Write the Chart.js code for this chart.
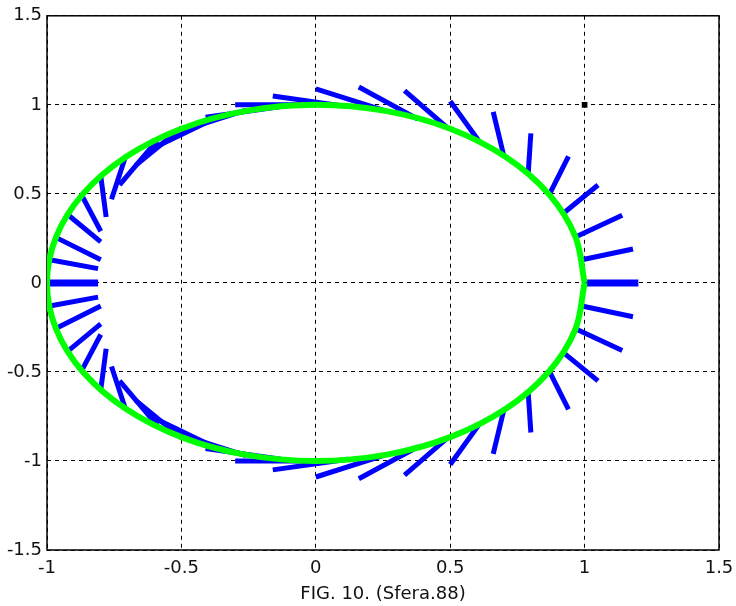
<!DOCTYPE html>
<html>
<head>
<meta charset="utf-8">
<script src="https://cdn.jsdelivr.net/npm/chart.js@4"></script>
<style>
  html, body { margin: 0; padding: 0; background: #fff; }
  #wrap { width: 736px; height: 606px; }
</style>
</head>
<body>
<div id="wrap"><canvas id="sferaChart"></canvas></div>
<script>
const xTicks = [-1, -0.5, 0, 0.5, 1, 1.5];
const yTicks = [-1.5, -1, -0.5, 0, 0.5, 1, 1.5];
const caption = "FIG. 10. (Sfera.88)";

// green ring, read every 15 degrees
const ringX = [1, 0.966, 0.866, 0.707, 0.5, 0.259, 0, -0.259, -0.5, -0.707, -0.866, -0.966,
  -1, -0.966, -0.866, -0.707, -0.5, -0.259, 0, 0.259, 0.5, 0.707, 0.866, 0.966, 1];
const ringY = [0, 0.259, 0.5, 0.707, 0.866, 0.966, 1, 0.966, 0.866, 0.707, 0.5, 0.259,
  0, -0.259, -0.5, -0.707, -0.866, -0.966, -1, -0.966, -0.866, -0.707, -0.5, -0.259, 0];

// blue needles: start on the ring, end point
const needleFromX = [1.00, 0.99, 0.97, 0.92, 0.87, 0.79, 0.70, 0.61, 0.49, 0.38, 0.25, 0.12,
  0.00, -0.13, -0.26, -0.38, -0.50, -0.59, -0.71, -0.80, -0.87, -0.92, -0.96, -0.99,
  -1.00, -0.99, -0.96, -0.92, -0.87, -0.80, -0.71, -0.59, -0.50, -0.38, -0.26, -0.13,
  0.00, 0.12, 0.25, 0.38, 0.49, 0.61, 0.70, 0.79, 0.87, 0.92, 0.97, 0.99];
const needleFromY = [0.00, 0.13, 0.26, 0.39, 0.50, 0.61, 0.71, 0.79, 0.87, 0.92, 0.97, 0.99,
  1.00, 0.99, 0.97, 0.92, 0.87, 0.80, 0.70, 0.60, 0.49, 0.38, 0.25, 0.13,
  0.00, -0.13, -0.25, -0.38, -0.49, -0.60, -0.70, -0.80, -0.87, -0.92, -0.97, -0.99,
  -1.00, -0.99, -0.97, -0.92, -0.87, -0.79, -0.71, -0.61, -0.50, -0.39, -0.26, -0.13];
const needleToX = [1.20, 1.18, 1.14, 1.05, 0.94, 0.80, 0.66, 0.50, 0.33, 0.16, 0.00, -0.16,
  -0.30, -0.41, -0.51, -0.60, -0.67, -0.73, -0.76, -0.78, -0.80, -0.80, -0.80, -0.81,
  -0.81, -0.81, -0.80, -0.80, -0.80, -0.78, -0.76, -0.73, -0.67, -0.60, -0.51, -0.41,
  -0.30, -0.16, 0.00, 0.16, 0.33, 0.50, 0.66, 0.80, 0.94, 1.05, 1.14, 1.18];
const needleToY = [0.00, 0.19, 0.38, 0.55, 0.71, 0.84, 0.96, 1.02, 1.08, 1.10, 1.09, 1.05,
  1.00, 0.93, 0.85, 0.76, 0.66, 0.55, 0.47, 0.37, 0.29, 0.23, 0.13, 0.08,
  0.00, -0.08, -0.13, -0.23, -0.29, -0.37, -0.47, -0.55, -0.66, -0.76, -0.85, -0.93,
  -1.00, -1.05, -1.09, -1.10, -1.08, -1.02, -0.96, -0.84, -0.71, -0.55, -0.38, -0.19];

const markerX = [1];
const markerY = [1];

const textColor = "#111";
const tickFont = { family: "DejaVu Sans", size: 18 };

const frameBox = {
  id: "frameBox",
  beforeDatasetsDraw(chart) {
    const { ctx, chartArea: a } = chart;
    ctx.save();
    ctx.strokeStyle = "#000";
    ctx.lineWidth = 1.5;
    ctx.strokeRect(a.left, a.top, a.right - a.left, a.bottom - a.top);
    ctx.restore();
  },
};

const datasets = [
  {
    data: ringX.map((x, i) => ({ x, y: ringY[i] })),
    showLine: true,
    borderColor: "#00ff00",
    borderWidth: 6,
    pointRadius: 0,
    tension: 0.34,
    clip: 0,
    order: 0,
  },
  {
    data: markerX.map((x, i) => ({ x, y: markerY[i] })),
    pointStyle: "rect",
    pointRadius: 4,
    backgroundColor: "#000",
    borderColor: "#000",
    borderWidth: 0,
    order: 0,
  },
];

needleFromX.forEach((x0, i) => {
  const flat = needleFromY[i] === 0 && needleToY[i] === 0;
  datasets.push({
    data: [
      { x: x0, y: needleFromY[i] },
      { x: needleToX[i], y: needleToY[i] },
    ],
    showLine: true,
    borderColor: "#0000ff",
    borderWidth: flat ? 7 : 5,
    borderCapStyle: "butt",
    pointRadius: 0,
    clip: 0,
    order: 1,
  });
});

new Chart(document.getElementById("sferaChart"), {
  type: "scatter",
  data: { datasets },
  plugins: [frameBox],
  options: {
    responsive: true,
    maintainAspectRatio: false,
    animation: false,
    layout: { padding: { top: 13, right: 17, left: 0, bottom: 0 } },
    plugins: {
      legend: { display: false },
      tooltip: { enabled: false },
    },
    scales: {
      x: {
        type: "linear",
        min: -1,
        max: 1.5,
        afterBuildTicks: (scale) => {
          scale.ticks = xTicks.map((v) => ({ value: v }));
        },
        afterFit: (scale) => {
          scale.height = 56;
          scale.paddingLeft = 0;
          scale.paddingRight = 0;
        },
        ticks: {
          color: textColor,
          font: tickFont,
          padding: 8,
          maxRotation: 0,
          autoSkip: false,
          callback: (v) => String(v),
        },
        grid: { color: "#000", lineWidth: 1, drawTicks: false },
        border: { display: false, dash: [4, 4] },
        title: {
          display: true,
          text: caption,
          color: textColor,
          font: tickFont,
          padding: { top: 0, bottom: 1 },
        },
      },
      y: {
        type: "linear",
        min: -1.5,
        max: 1.5,
        afterBuildTicks: (scale) => {
          scale.ticks = yTicks.map((v) => ({ value: v }));
        },
        afterFit: (scale) => {
          scale.width = 47;
        },
        ticks: {
          color: textColor,
          font: tickFont,
          padding: 5,
          autoSkip: false,
          callback: (v) => String(v),
        },
        grid: { color: "#000", lineWidth: 1, drawTicks: false },
        border: { display: false, dash: [4, 4] },
      },
    },
  },
});
</script>
</body>
</html>
